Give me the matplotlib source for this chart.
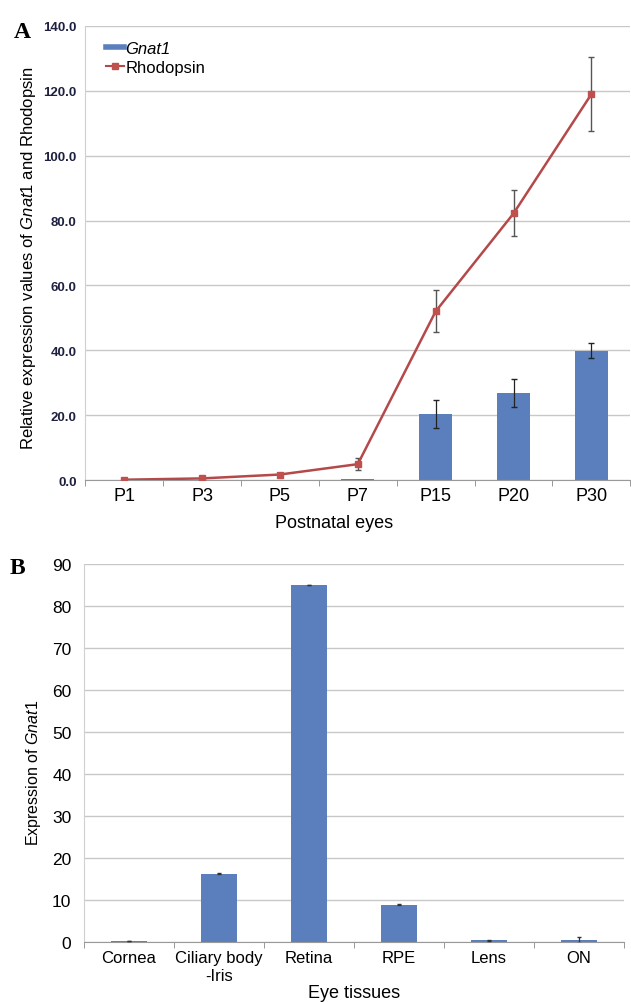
import numpy as np
import matplotlib.pyplot as plt
from matplotlib.lines import Line2D

plt.rcParams['font.family'] = ['Liberation Sans', 'DejaVu Sans']
plt.rcParams['mathtext.fontset'] = 'custom'
plt.rcParams['mathtext.rm'] = 'Liberation Sans'
plt.rcParams['mathtext.it'] = 'Liberation Sans:italic'

# Panel A: postnatal time course
ages = ['P1', 'P3', 'P5', 'P7', 'P15', 'P20', 'P30']
gnat1_age = [0.05, 0.1, 0.15, 0.3, 20.4, 26.8, 39.9]
gnat1_age_err = [0.0, 0.0, 0.0, 0.0, 4.3, 4.3, 2.3]
rho_age = [0.1, 0.5, 1.7, 4.9, 52.0, 82.2, 119.0]
rho_age_err = [0.0, 0.2, 0.3, 1.8, 6.5, 7.1, 11.5]

# Panel B: eye tissues
tissues = ['Cornea', 'Ciliary body\n-Iris', 'Retina', 'RPE', 'Lens', 'ON']
gnat1_tissue = [0.2, 16.2, 84.9, 8.8, 0.3, 0.5]
gnat1_tissue_err = [0.05, 0.2, 0.1, 0.1, 0.15, 0.7]

BLUE = '#5b7fbd'
RED = '#c0504d'
GRID = '#c8c8c8'

fig = plt.figure(figsize=(6.31, 10.03), dpi=100)

# ---- Panel A ----
ax1 = fig.add_axes([0.135, 0.5204, 0.864, 0.4527])
x = np.arange(len(ages))
ax1.bar(x, gnat1_age, width=0.42, color=BLUE, zorder=2)
ax1.errorbar(x[4:], gnat1_age[4:], yerr=gnat1_age_err[4:], fmt='none',
             ecolor='#222222', elinewidth=0.9, capsize=2.5, zorder=3)
ax1.errorbar(x, rho_age, yerr=rho_age_err, fmt='none',
             ecolor='#555555', elinewidth=1.0, capsize=2.5, zorder=3)
ax1.plot(x, rho_age, color='#b5494a', lw=1.8, marker='s', ms=5,
         mfc=RED, mec=RED, zorder=4)

ax1.set_xlim(-0.5, len(ages) - 0.5)
ax1.set_ylim(0, 140)
ax1.set_yticks(np.arange(0, 141, 20))
ax1.set_yticklabels([f'{v:.1f}' for v in np.arange(0, 141, 20)],
                    fontsize=9.5, fontweight='bold', color='#1e2040')
ax1.set_xticks(x)
ax1.set_xticklabels(ages, fontsize=13)
ax1.set_xticks(np.arange(-0.5, len(ages), 1), minor=True)
ax1.tick_params(axis='x', which='major', length=0, pad=5)
ax1.tick_params(axis='x', which='minor', length=4, color='#888888')
ax1.tick_params(axis='y', length=0, pad=6)
ax1.yaxis.grid(True, color=GRID, lw=1.0, zorder=0)
ax1.set_axisbelow(True)
for s in ['top', 'right']:
    ax1.spines[s].set_visible(False)
ax1.spines['left'].set_color('#d0d0d0')
ax1.spines['bottom'].set_color('#999999')
ax1.set_xlabel('Postnatal eyes', fontsize=13, labelpad=2)
ax1.xaxis.set_label_coords(0.457, -0.075)
ax1.set_ylabel(r'Relative expression values of $\it{Gnat1}$ and Rhodopsin',
               fontsize=12)
ax1.yaxis.set_label_coords(-0.086, 0.49)

handles = [Line2D([0], [0], color=BLUE, lw=4),
           Line2D([0], [0], color='#b5494a', lw=1.5, marker='s', ms=4,
                  mfc=RED, mec=RED)]
leg = ax1.legend(handles, ['Gnat1', 'Rhodopsin'], loc='upper left',
                 bbox_to_anchor=(0.01, 1.0), frameon=False, fontsize=12,
                 handlelength=1.1, handletextpad=0.1, labelspacing=0.25)
leg.get_texts()[0].set_fontstyle('italic')

fig.text(0.022, 0.968, 'A', fontsize=17, fontweight='bold',
         family='Liberation Serif', va='center')

# ---- Panel B ----
ax2 = fig.add_axes([0.133, 0.0601, 0.856, 0.377])
xb = np.arange(len(tissues))
ax2.bar(xb, gnat1_tissue, width=0.4, color=BLUE, zorder=2)
ax2.errorbar(xb, gnat1_tissue, yerr=gnat1_tissue_err, fmt='none',
             ecolor='#333333', elinewidth=0.9, capsize=1.5, zorder=3)
ax2.set_xlim(-0.5, len(tissues) - 0.5)
ax2.set_ylim(0, 90)
ax2.set_yticks(np.arange(0, 91, 10))
ax2.tick_params(axis='y', labelsize=12.5, length=0, pad=9)
ax2.set_xticks(xb)
ax2.set_xticklabels(tissues, fontsize=12, linespacing=1.25)
ax2.set_xticks(np.arange(-0.5, len(tissues), 1), minor=True)
ax2.tick_params(axis='x', which='major', length=0, pad=6)
ax2.tick_params(axis='x', which='minor', length=4, color='#888888')
ax2.yaxis.grid(True, color=GRID, lw=1.0, zorder=0)
ax2.set_axisbelow(True)
for s in ['top', 'right']:
    ax2.spines[s].set_visible(False)
ax2.spines['left'].set_color('#d0d0d0')
ax2.spines['bottom'].set_color('#999999')
ax2.set_xlabel('Eye tissues', fontsize=13)
ax2.xaxis.set_label_coords(0.5, -0.112)
ax2.set_ylabel(r'Expression of $\it{Gnat1}$', fontsize=11.5)
ax2.yaxis.set_label_coords(-0.076, 0.45)

fig.text(0.015, 0.433, 'B', fontsize=17, fontweight='bold',
         family='Liberation Serif', va='center')

fig.savefig('out.png', dpi=100)
